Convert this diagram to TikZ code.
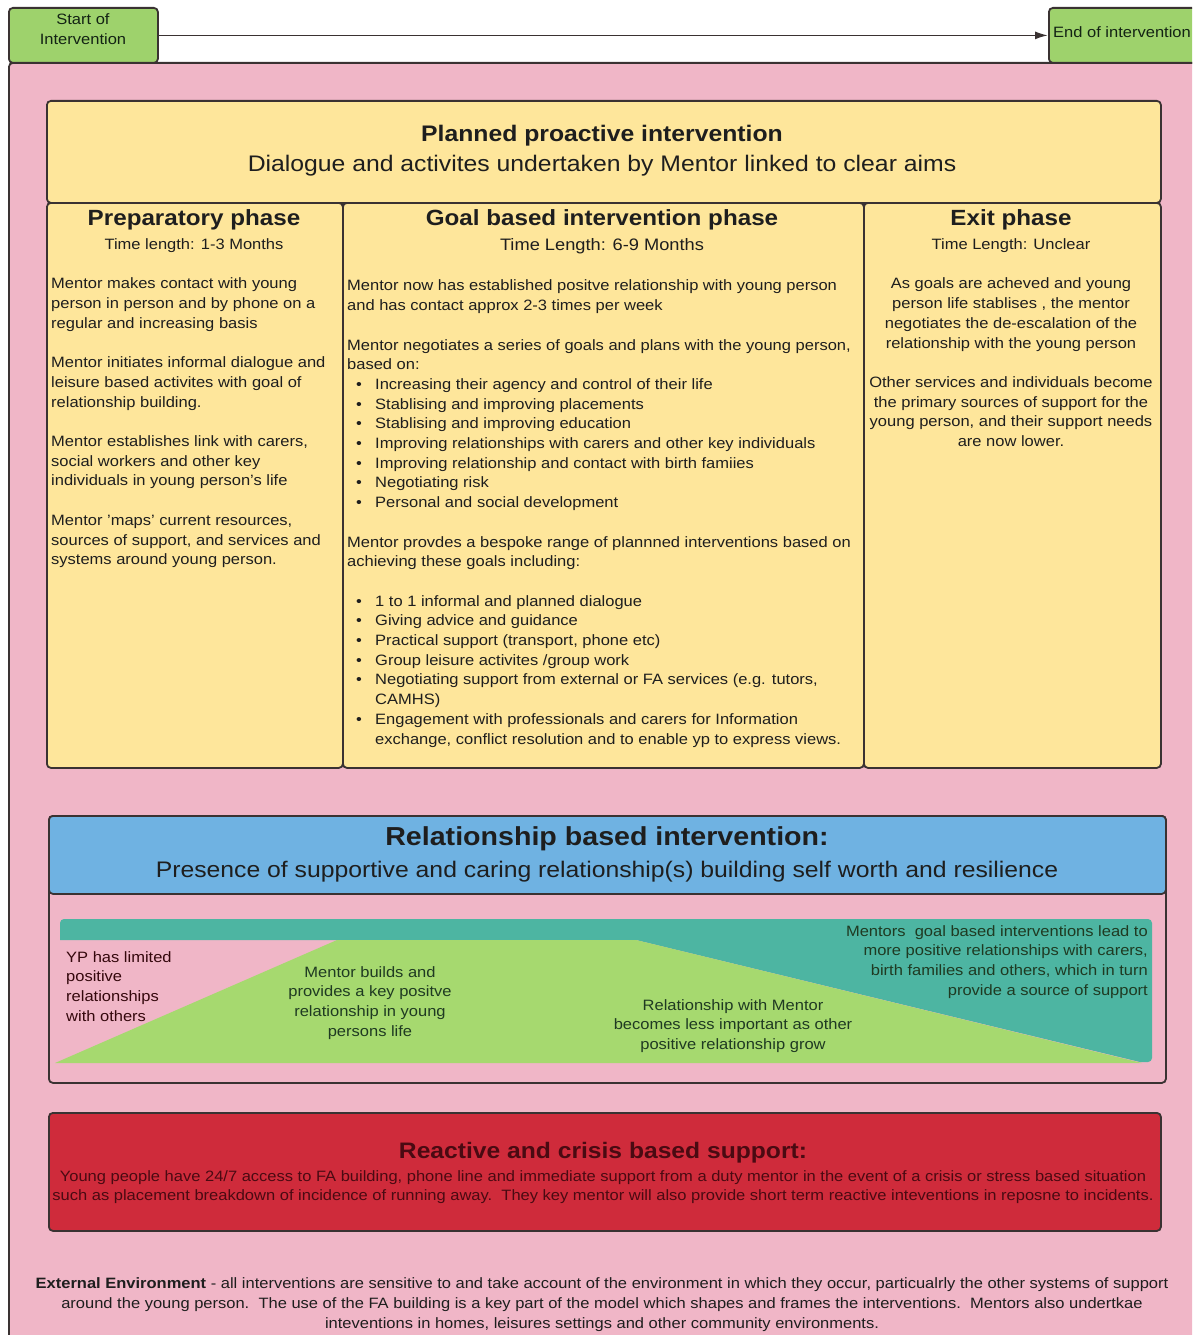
\documentclass[tikz,border=0pt]{standalone}
\usepackage{fontspec}
\setmainfont[FakeStretch=1.1]{Liberation Sans}
\usetikzlibrary{arrows.meta}
\definecolor{pinkbg}{HTML}{F0B6C7}
\definecolor{yellowc}{HTML}{FEE69B}
\definecolor{greenbox}{HTML}{9ED26C}
\definecolor{bluec}{HTML}{6FB2E2}
\definecolor{redc}{HTML}{CF2B3B}
\definecolor{tealc}{HTML}{4DB5A2}
\definecolor{greenc}{HTML}{A6D96F}
\definecolor{bordc}{HTML}{3A3232}
\definecolor{txtc}{HTML}{1E1E1E}
\definecolor{redtxt}{HTML}{4A0A12}
\definecolor{grntxt}{HTML}{1F3A22}
\newcommand{\bul}{\makebox[28pt][l]{\hspace{9pt}•}}
\newcommand{\cont}{\hspace*{28pt}}
\begin{document}
\begin{tikzpicture}[x=1pt,y=-1pt,
  box/.style={draw=bordc, line width=1.8pt, rounded corners=4pt, inner sep=0pt, anchor=north west},
  body/.style={inner sep=0pt, text=txtc, font=\fontsize{15}{19.7}\selectfont},
  head/.style={inner sep=0pt, text=txtc, font=\bfseries\fontsize{22}{26}\selectfont, anchor=base},
  sub/.style={inner sep=0pt, text=txtc, font=\fontsize{15}{19.7}\selectfont, anchor=base},
]
\useasboundingbox (0,0) rectangle (1192,1335);
\clip (0,0) rectangle (1192,1335);
\fill[white] (0,0) rectangle (1192,1335);

% outer pink frame
\node[box, fill=pinkbg, minimum width=1210pt, minimum height=1290pt] (frame) at (8,62) {};

% start / end
\node[box, fill=greenbox, minimum width=149pt, minimum height=55pt] (start) at (8,7) {};
\node[body, align=center, text=grntxt!60!black] (startt) at (83,29) {Start of\\Intervention};
\node[box, fill=greenbox, minimum width=160pt, minimum height=55pt] (end) at (1048,7) {};
\node[body, anchor=west, text=grntxt!60!black] (endt) at (1053,32) {End of intervention};
\draw[-{Latex[length=13pt,width=8pt]}, line width=1.6pt, draw=bordc] (start.east) -- (end.west);

% planned proactive intervention
\node[box, fill=yellowc, minimum width=1114pt, minimum height=102pt] (plan) at (46,100) {};
\node[head, font=\bfseries\fontsize{22.5}{26}\selectfont] (planh) at (602,141) {Planned proactive intervention};
\node[head, font=\fontsize{22.5}{26}\selectfont] (plans) at (602,171) {Dialogue and activites undertaken by Mentor linked to clear aims};

\node[box, fill=yellowc, minimum width=296pt, minimum height=565pt] (col1) at (46,202) {};
\node[box, fill=yellowc, minimum width=521pt, minimum height=565pt] (col2) at (342,202) {};
\node[box, fill=yellowc, minimum width=297pt, minimum height=565pt] (col3) at (863,202) {};

\node[head] (h1) at (194,225) {Preparatory phase};
\node[sub] (t1) at (194,249) {Time length: 1-3 Months};
\node[head] (h2) at (602,225) {Goal based intervention phase};
\node[sub, font=\fontsize{16.6}{19.7}\selectfont] (t2) at (602,250) {Time Length: 6-9 Months};
\node[head] (h3) at (1011,225) {Exit phase};
\node[sub] (t3) at (1011,249) {Time Length: Unclear};

\node[body, anchor=north west, align=left] (c1) at (51,275) {\strut Mentor makes contact with young\\
person in person and by phone on a\\
regular and increasing basis\\[19.7pt]
Mentor initiates informal dialogue and\\
leisure based activites with goal of\\
relationship building.\\[19.7pt]
Mentor establishes link with carers,\\
social workers and other key\\
individuals in young person's life\\[19.7pt]
Mentor 'maps' current resources,\\
sources of support, and services and\\
systems around young person.};

\node[body, anchor=north west, align=left] (c2) at (347,277) {\strut Mentor now has established positve relationship with young person\\
and has contact approx 2-3 times per week\\[19.7pt]
Mentor negotiates a series of goals and plans with the young person,\\
based on:\\
\bul Increasing their agency and control of their life\\
\bul Stablising and improving placements\\
\bul Stablising and improving education\\
\bul Improving relationships with carers and other key individuals\\
\bul Improving relationship and contact with birth famiies\\
\bul Negotiating risk\\
\bul Personal and social development\\[19.7pt]
Mentor provdes a bespoke range of plannned interventions based on\\
achieving these goals including:\\[19.7pt]
\bul 1 to 1 informal and planned dialogue\\
\bul Giving advice and guidance\\
\bul Practical support (transport, phone etc)\\
\bul Group leisure activites /group work\\
\bul Negotiating support from external or FA services (e.g. tutors,\\
\cont CAMHS)\\
\bul Engagement with professionals and carers for Information\\
\cont exchange, conflict resolution and to enable yp to express views.};

\node[body, anchor=north, align=center] (c3) at (1011,275) {\strut As goals are acheved and young\\
person life stablises , the mentor\\
negotiates the de-escalation of the\\
relationship with the young person\\[19.7pt]
Other services and individuals become\\
the primary sources of support for the\\
young person, and their support needs\\
are now lower.};

% relationship based intervention
\node[box, fill=pinkbg, minimum width=1117pt, minimum height=267pt] (rel) at (48,815) {};
\node[box, fill=bluec, minimum width=1117pt, minimum height=78pt] (relh) at (48,815) {};
\node[head, font=\bfseries\fontsize{26}{30}\selectfont] (relt) at (607,845) {Relationship based intervention:};
\node[head, font=\fontsize{22.5}{26}\selectfont] (rels) at (607,877) {Presence of supportive and caring relationship(s) building self worth and resilience};

\fill[tealc, rounded corners=4pt] (60,919) -- (1152,919) -- (1152,1062) [sharp corners] -- (1140,1062) -- (636,940) -- (60,940) [rounded corners=4pt] -- cycle;
\fill[greenc] (55,1063) -- (337,940) -- (636,940) -- (1142,1063) -- cycle;

\node[body, anchor=north west, align=left, text=redtxt!70!black] (r1) at (66,948) {\strut YP has limited\\positive\\relationships\\with others};
\node[body, anchor=north, align=center, text=grntxt] (r2) at (370,963) {\strut Mentor builds and\\provides a key positve\\relationship in young\\persons life};
\node[body, anchor=north, align=center, text=grntxt] (r3) at (733,996) {\strut Relationship with Mentor\\becomes less important as other\\positive relationship grow};
\node[body, anchor=north east, align=right, text=grntxt] (r4) at (1148,922) {\strut Mentors\ \ goal based interventions lead to\\more positive relationships with carers,\\birth families and others, which in turn\\provide a source of support};

% reactive
\node[box, fill=redc, minimum width=1112pt, minimum height=118pt] (react) at (48,1112) {};
\node[head, text=redtxt, font=\bfseries\fontsize{22.4}{26}\selectfont] (reacth) at (603,1158) {Reactive and crisis based support:};
\node[sub, text=redtxt] (reac1) at (603,1181) {Young people have 24/7 access to FA building, phone line and immediate support from a duty mentor in the event of a crisis or stress based situation};
\node[sub, text=redtxt] (reac2) at (603,1200) {such as placement breakdown of incidence of running away.\ \ They key mentor will also provide short term reactive inteventions in reposne to incidents.};

% external environment
\node[sub] (ext1) at (602,1288) {\textbf{External Environment} - all interventions are sensitive to and take account of the environment in which they occur, particualrly the other systems of support};
\node[sub] (ext2) at (602,1308) {around the young person.\ \ The use of the FA building is a key part of the model which shapes and frames the interventions.\ \ Mentors also undertkae};
\node[sub] (ext3) at (602,1328) {inteventions in homes, leisures settings and other community environments.};
\end{tikzpicture}
\end{document}
